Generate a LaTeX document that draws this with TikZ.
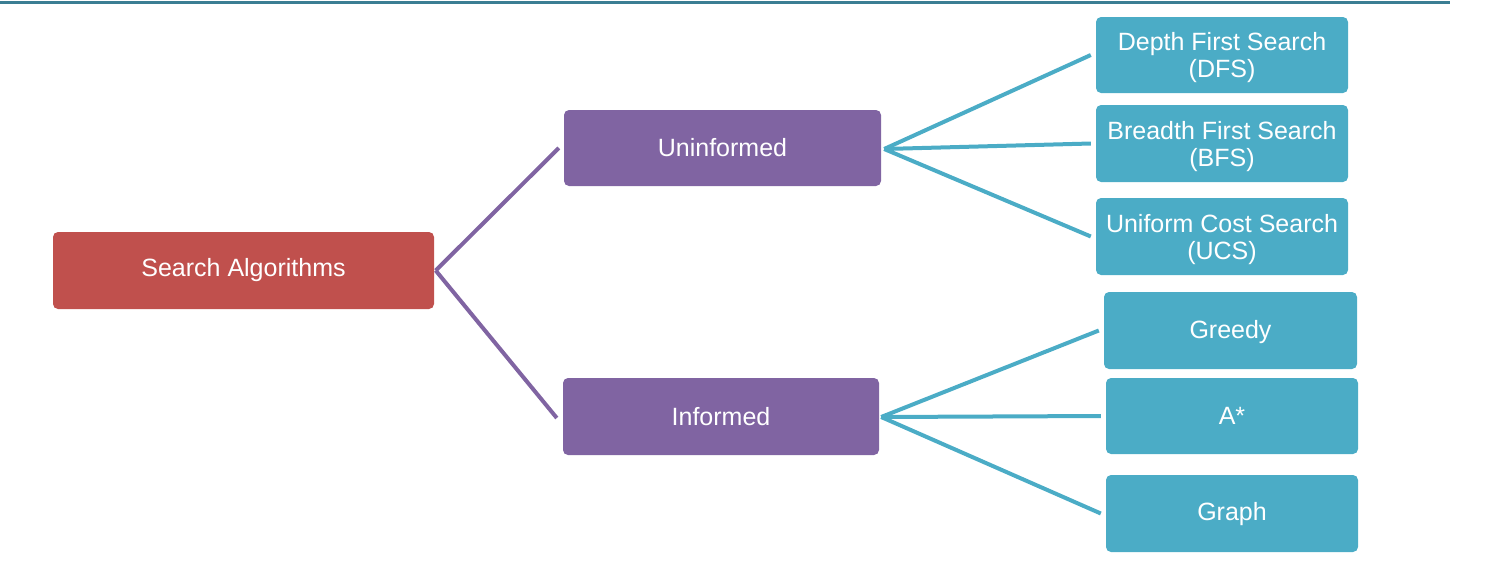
\documentclass[tikz,border=0pt]{standalone}
\usepackage{fontspec}
\setmainfont{Liberation Sans}
\definecolor{cred}{HTML}{C0504D}
\definecolor{cpurple}{HTML}{8064A2}
\definecolor{cblue}{HTML}{4BACC6}
\definecolor{ctop}{HTML}{3B7E93}
\newcommand{\twolines}[2]{\raisebox{-3.6pt}[\height][\depth]{\begin{tabular}{@{}c@{}}#1\\#2\end{tabular}}}
\newcommand{\lowered}[2]{\raisebox{-#1pt}[\height][\depth]{#2}}
\begin{document}
\begin{tikzpicture}[x=1pt,y=-1pt,
  box/.style={rectangle, rounded corners=5pt, inner sep=0pt, align=center,
    text=white, font=\fontsize{25}{27}\selectfont},
  redbox/.style={box, fill=cred},
  purplebox/.style={box, fill=cpurple},
  bluebox/.style={box, fill=cblue},
  plink/.style={draw=cpurple, line width=4pt},
  blink/.style={draw=cblue, line width=4pt}]
\useasboundingbox (0,0) rectangle (1486,563);
\draw[ctop, line width=3pt] (0,2.5) coordinate (tl) -- (1450,2.5) coordinate (tr);
\node[redbox, minimum width=381pt, minimum height=77pt] (sa) at (243.5,270.5) {Search Algorithms};
\node[purplebox, minimum width=317pt, minimum height=76pt] (unf) at (722.5,148) {Uninformed};
\node[purplebox, minimum width=316pt, minimum height=77pt] (inf) at (721,416.5) {Informed};
\node[bluebox, minimum width=252pt, minimum height=76pt] (dfs) at (1222,55) {\twolines{Depth First Search}{(DFS)}};
\node[bluebox, minimum width=252pt, minimum height=77pt] (bfs) at (1222,143.5) {\twolines{Breadth First Search}{(BFS)}};
\node[bluebox, minimum width=252pt, minimum height=77pt] (ucs) at (1222,236.5) {\twolines{Uniform Cost Search}{(UCS)}};
\node[bluebox, minimum width=253pt, minimum height=77pt] (greedy) at (1230.5,330.5) {\lowered{1.5}{Greedy}};
\node[bluebox, minimum width=252pt, minimum height=76pt] (astar) at (1232,416) {A*};
\node[bluebox, minimum width=252pt, minimum height=77pt] (graph) at (1232,513.5) {\lowered{1}{Graph}};
\draw[plink] ([xshift=1.5pt]sa.east) -- ([xshift=-5pt]unf.west);
\draw[plink] ([xshift=1.5pt]sa.east) -- ([xshift=-6pt,yshift=-1.5pt]inf.west);
\draw[blink] ([xshift=3pt,yshift=-1pt]unf.east) -- ([xshift=-5pt]dfs.west);
\draw[blink] ([xshift=3pt,yshift=-1pt]unf.east) -- ([xshift=-5pt]bfs.west);
\draw[blink] ([xshift=3pt,yshift=-1pt]unf.east) -- ([xshift=-5pt]ucs.west);
\draw[blink] ([xshift=2pt,yshift=-0.5pt]inf.east) -- ([xshift=-5pt]greedy.west);
\draw[blink] ([xshift=2pt,yshift=-0.5pt]inf.east) -- ([xshift=-5pt]astar.west);
\draw[blink] ([xshift=2pt,yshift=-0.5pt]inf.east) -- ([xshift=-5pt]graph.west);
\end{tikzpicture}
\end{document}
